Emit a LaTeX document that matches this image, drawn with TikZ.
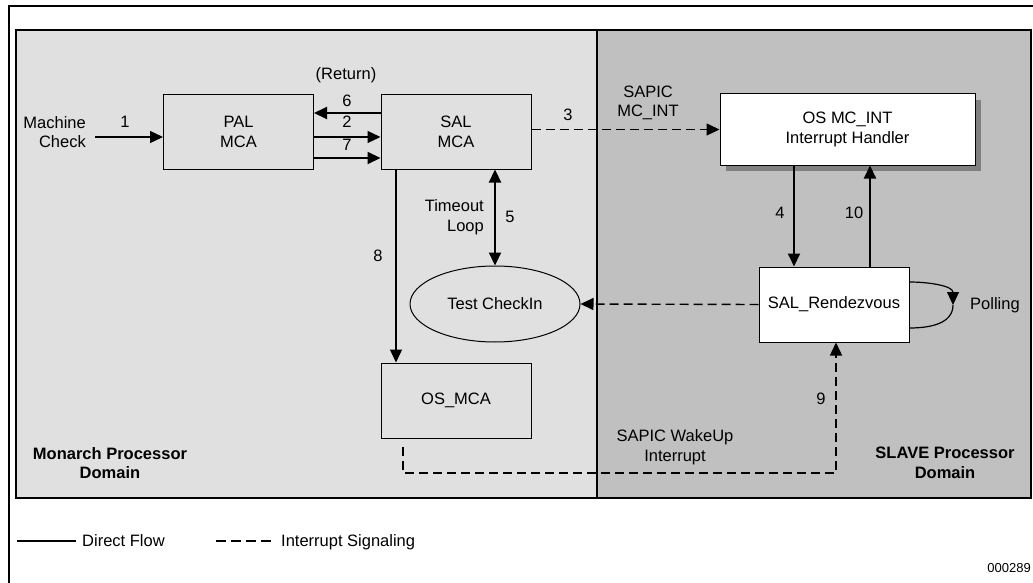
\documentclass[tikz,border=0pt]{standalone}
\usepackage{fontspec}
\setmainfont{Liberation Sans}
\usetikzlibrary{arrows.meta,shapes.geometric,calc}
\newcommand{\fsz}{\fontsize{16.5}{19.5}\selectfont}
\definecolor{lgray}{gray}{0.878}
\definecolor{dgray}{gray}{0.753}
\definecolor{shgray}{gray}{0.5}
\begin{document}
\begin{tikzpicture}[x=1pt,y=-1pt,
  every node/.style={font=\fsz},
  box/.style={draw=black, line width=1pt, minimum width=150pt, minimum height=74pt, align=center, inner sep=0pt},
  lbl/.style={inner sep=0pt, text height=11.8pt, text depth=0pt},
  mlbl/.style={inner sep=0pt, align=center},
  tip/.style={-{Triangle[length=13pt,width=12pt]}},
  thinarrow/.style={line width=1.3pt, tip},
  thickarrow/.style={line width=2pt, tip},
  dasharrow/.style={line width=1.4pt, dash pattern=on 9pt off 5pt, tip}]
\useasboundingbox (0,0) rectangle (1033,583);
% regions
\fill[lgray] (16,30) rectangle (597,498);
\fill[dgray] (597,30) rectangle (1031,498);
\draw[line width=1.3pt] (16,30) rectangle (1031,498);
\draw[line width=1.3pt] (597,30) -- (597,498);
% outer frame
\draw[line width=2pt] (9,583) -- (9,6) -- (1033,6);
% shadow
\fill[shgray] (726,100) rectangle (981,171);
% nodes
\node[box] (pal) at (238.5,132) {PAL\\MCA};
\node[box] (sal) at (456,132) {SAL\\MCA};
\node[box, fill=white, minimum width=255pt, minimum height=71pt] (osint) at (847.5,129.5) {OS MC\_INT\\Interrupt Handler};
\node[box, fill=white, minimum height=75pt] (salr) at (834,304.5) {SAL\_Rendezvous};
\node[box, minimum height=75pt] (osmca) at (456,400.5) {OS\_MCA};
\node[ellipse, draw, line width=1pt, minimum width=170pt, minimum height=76pt, inner sep=0pt] (tc) at (495,304) {Test CheckIn};
% text labels
\node[mlbl, align=right, anchor=east] (mc) at (86,132) {Machine\\Check};
\node[lbl] (l1) at (125,122) {1};
\node[lbl] (lret) at (346,74) {(Return)};
\node[lbl] (l6) at (347,101) {6};
\node[lbl] (l2) at (347,122) {2};
\node[lbl] (l7) at (347,145) {7};
\node[mlbl] (lsapic) at (648,103) {SAPIC\\MC\_INT};
\node[lbl] (l3) at (568,115) {3};
\node[mlbl, align=right, anchor=east] (lto) at (484,217) {Timeout\\Loop};
\node[lbl] (l5) at (510,217) {5};
\node[lbl] (l8) at (378,256) {8};
\node[lbl] (l4) at (780,213) {4};
\node[lbl] (l10) at (854,213) {10};
\node[lbl, anchor=west] (lpoll) at (970,304) {Polling};
\node[lbl] (l9) at (821,399) {9};
\node[mlbl] (lwake) at (675,447) {SAPIC WakeUp\\Interrupt};
\node[mlbl, font=\fsz\bfseries] (lmon) at (110,463) {Monarch Processor\\Domain};
\node[mlbl, font=\fsz\bfseries] (lslave) at (945,463) {SLAVE Processor\\Domain};
% connectors
\coordinate (in1) at (95,137);
\draw[thinarrow] (in1) -- (in1 -| pal.west);
\draw[thickarrow] ([yshift=19pt]sal.west) -- ([yshift=19pt]pal.east);
\draw[thinarrow] ([yshift=-5pt]pal.east) -- ([yshift=-5pt]sal.west);
\draw[thickarrow] ([yshift=-26pt]pal.east) -- ([yshift=-26pt]sal.west);
\draw[dasharrow] (sal.east |- osint.west) -- (osint.west);
\coordinate (a4) at (794,0);
\coordinate (a10) at (870,0);
\coordinate (a8) at (396,0);
\draw[thickarrow] (a4 |- osint.south) -- (a4 |- salr.north);
\draw[thickarrow] (a10 |- salr.north) -- (a10 |- osint.south);
\draw[line width=2.2pt, {Triangle[length=13pt,width=12pt]}-{Triangle[length=13pt,width=12pt]}] (tc.north |- sal.south) -- (tc.north);
\draw[thinarrow] (a8 |- sal.south) -- (a8 |- osmca.north);
\draw[dasharrow] (salr.west) -- (tc.east);
\coordinate (d9s) at (403,447);
\coordinate (d9c) at (836,473);
\draw[dasharrow] (d9s) |- (d9c) -- (d9c |- salr.south);
\coordinate (pe) at (953,305);
\draw[line width=1.2pt, tip] ([yshift=22.5pt]salr.east) to[out=0,in=90] (pe);
\draw[line width=1.2pt] (pe) to[out=-90,in=0] ([yshift=-23.5pt]salr.east);
% legend
\coordinate (ls1) at (17,541);
\coordinate (ls2) at (76,541);
\coordinate (ld1) at (216,541);
\coordinate (ld2) at (272,541);
\draw[line width=1.6pt] (ls1) -- (ls2);
\draw[line width=1.6pt, dash pattern=on 10pt off 5pt] (ld1) -- (ld2);
\node[lbl, anchor=west] (lgd1) at (82,541) {Direct Flow};
\node[lbl, anchor=west] (lgd2) at (281,541) {Interrupt Signaling};
\node[lbl, anchor=east, font=\fontsize{13}{15}\selectfont, text height=9.3pt] (fig) at (1031,568) {000289};
\end{tikzpicture}
\end{document}
